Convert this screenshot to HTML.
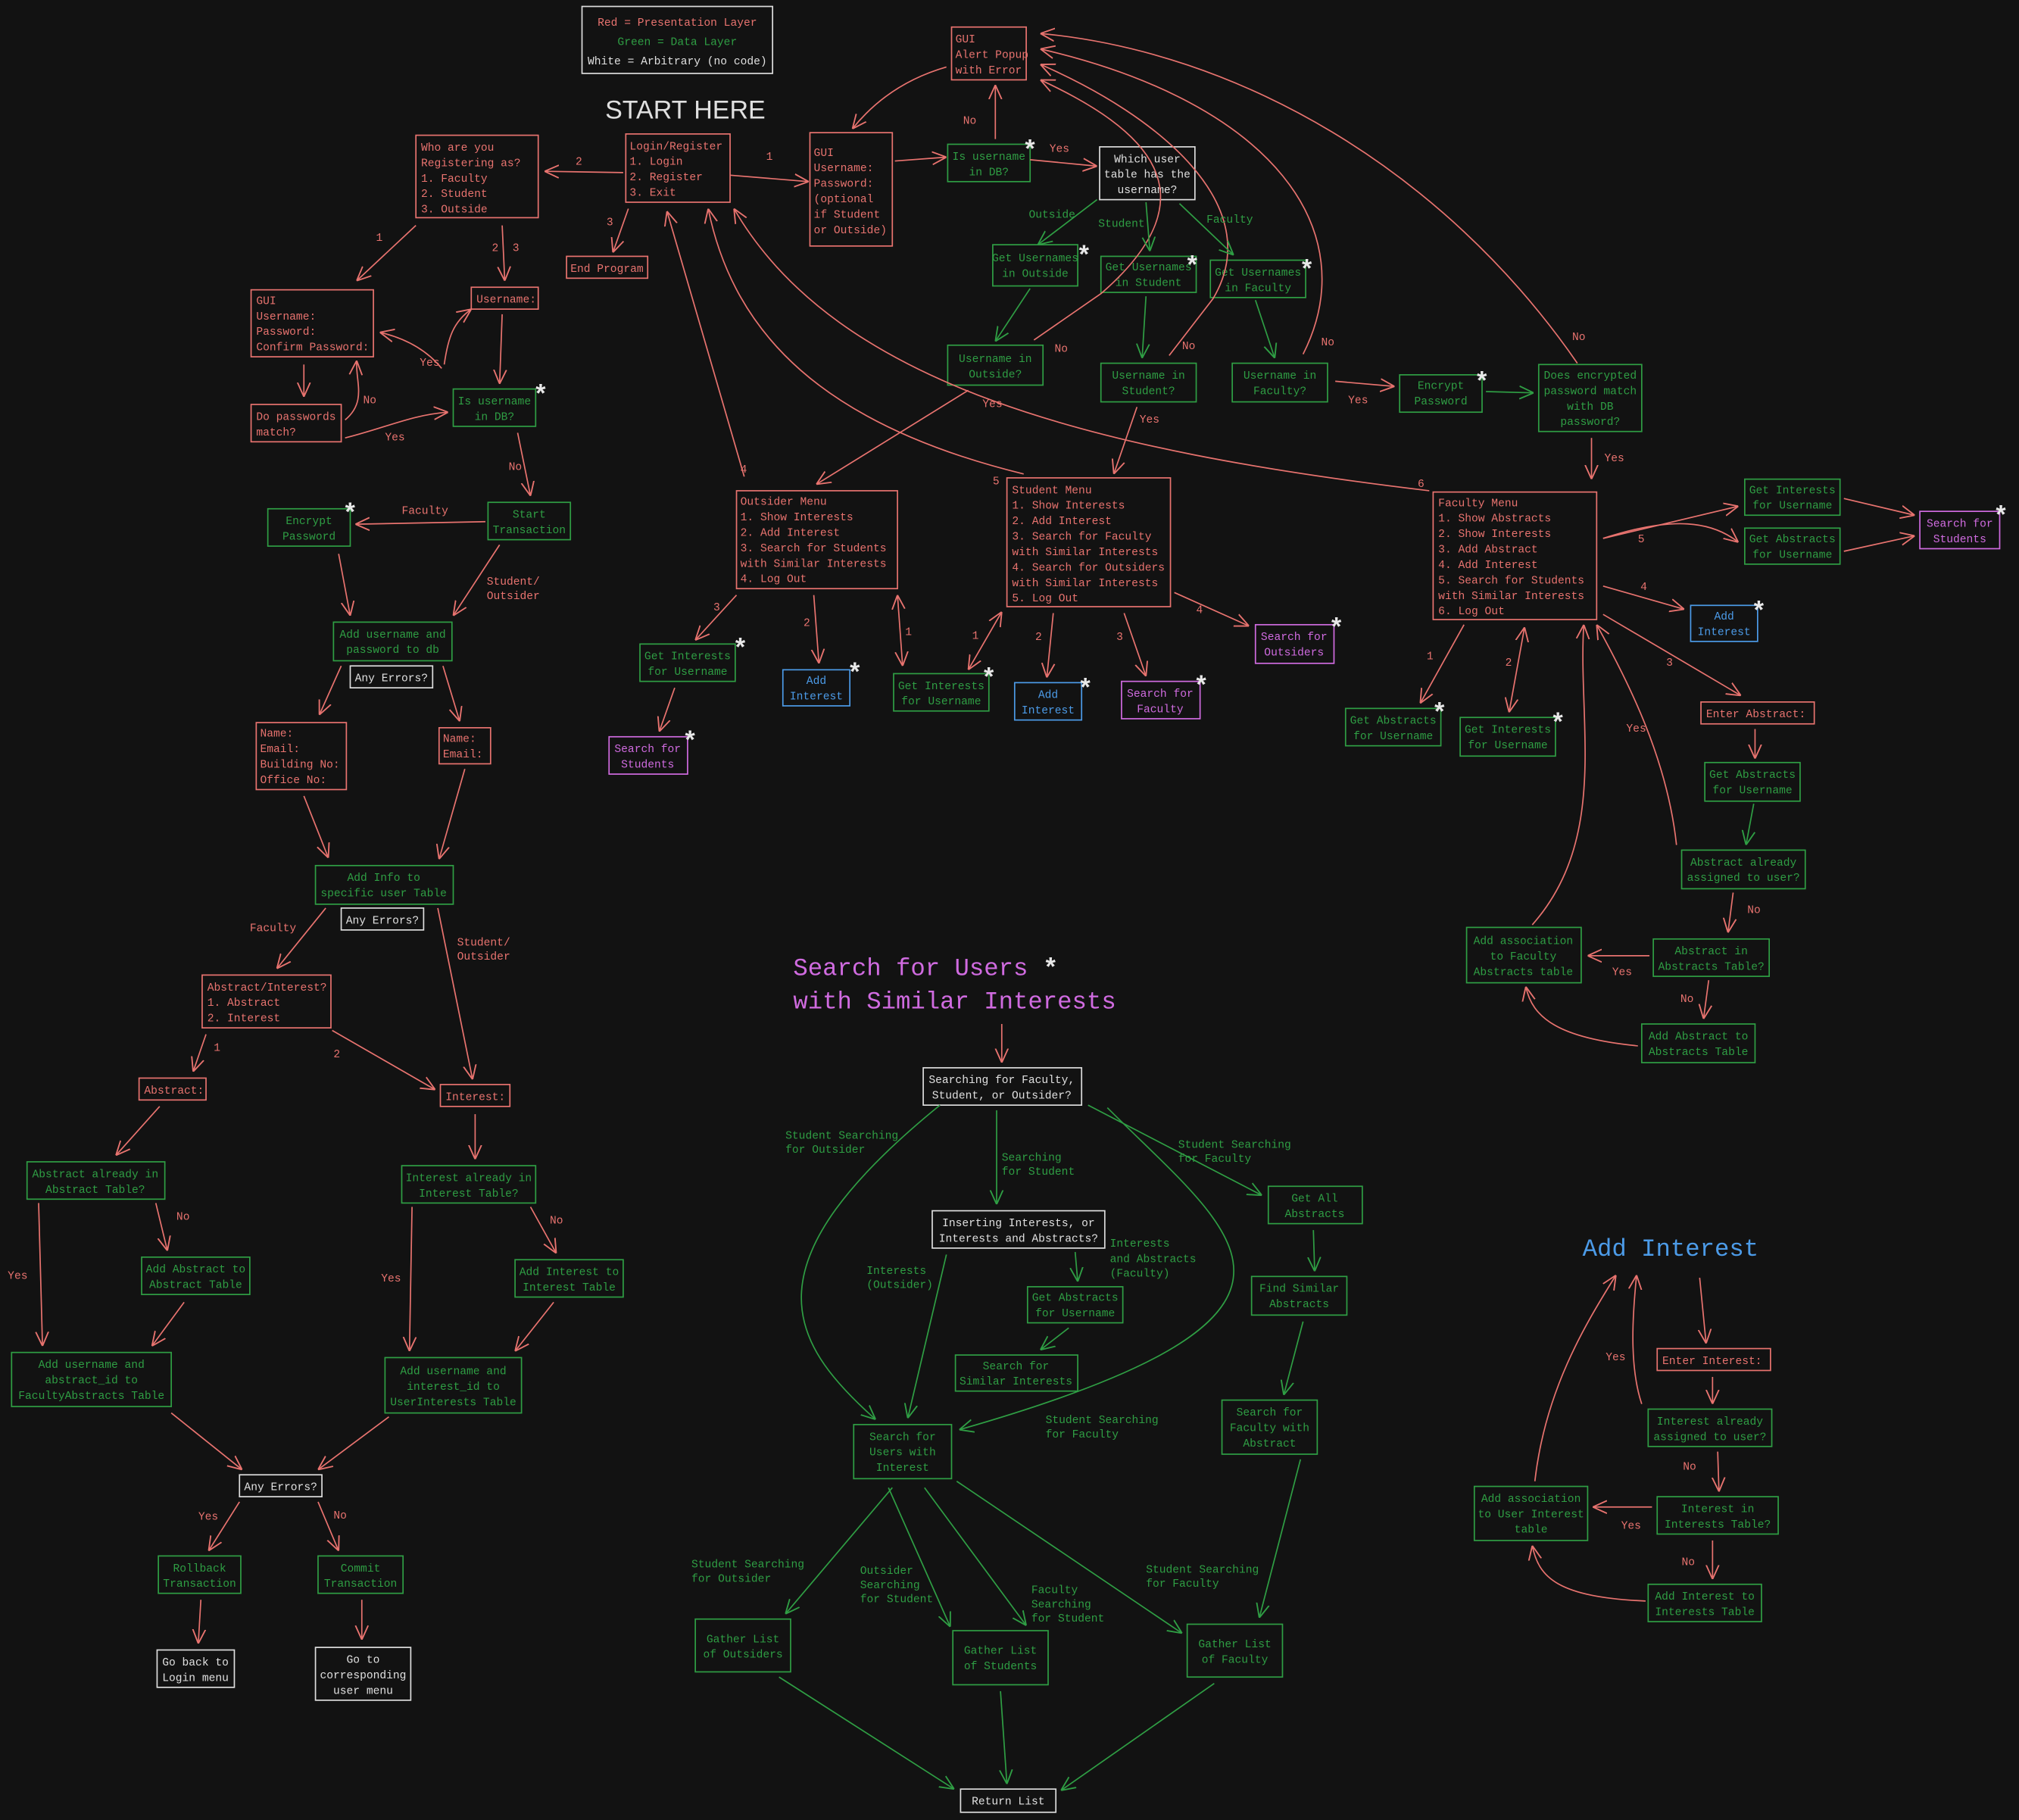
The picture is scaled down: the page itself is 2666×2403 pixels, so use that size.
<!DOCTYPE html>
<html><head><meta charset="utf-8"><style>
html,body{margin:0;padding:0;background:#121212}
svg{display:block}
text{font-family:"Liberation Mono",monospace;font-size:8.6px}
.r{fill:none;stroke:#e8736f;stroke-width:1}
.g{fill:none;stroke:#2f9e44;stroke-width:1}
.w{fill:none;stroke:#dddddd;stroke-width:1}
.p{fill:none;stroke:#d06be0;stroke-width:1}
.b{fill:none;stroke:#4c9be8;stroke-width:1}
.tr{fill:#e8736f}.tg{fill:#2f9e44}.tw{fill:#e0e0e0}.tp{fill:#d06be0}.tb{fill:#4c9be8}
.c{text-anchor:middle}
.lr{fill:none;stroke:#e8736f;stroke-width:1;marker-end:url(#ar)}
.lg{fill:none;stroke:#2f9e44;stroke-width:1;marker-end:url(#ag)}
.dr{fill:none;stroke:#e8736f;stroke-width:1;marker-end:url(#ar);marker-start:url(#ar)}
.ast{fill:#e8e8e8;font-size:20px;font-weight:bold;font-family:"Liberation Sans",sans-serif}
</style></head><body>
<svg width="2666" height="2403" viewBox="0 0 1568 1413" preserveAspectRatio="none" xmlns="http://www.w3.org/2000/svg">
<defs>
<marker id="ar" viewBox="0 0 10 10" refX="10" refY="5" markerWidth="11" markerHeight="11" orient="auto-start-reverse" markerUnits="userSpaceOnUse"><path d="M0,0.5 L10,5 L0,9.5" fill="none" stroke="#e8736f" stroke-width="1"/></marker>
<marker id="ag" viewBox="0 0 10 10" refX="10" refY="5" markerWidth="11" markerHeight="11" orient="auto-start-reverse" markerUnits="userSpaceOnUse"><path d="M0,0.5 L10,5 L0,9.5" fill="none" stroke="#2f9e44" stroke-width="1"/></marker>
</defs>
<rect width="1568" height="1413" fill="#121212"/>

<!-- legend -->
<rect class="w" x="452" y="5" width="148" height="52"/>
<text class="tr c" x="526" y="20">Red = Presentation Layer</text>
<text class="tg c" x="526" y="35">Green = Data Layer</text>
<text class="tw c" x="526" y="50">White = Arbitrary (no code)</text>
<text class="tw" x="470" y="92" style="font-size:20px;font-family:'Liberation Sans',sans-serif">START HERE</text>

<!-- top boxes -->
<rect class="r" x="486" y="104" width="81" height="53"/>
<text class="tr"><tspan x="489" y="116">Login/Register</tspan><tspan x="489" y="128">1. Login</tspan><tspan x="489" y="140">2. Register</tspan><tspan x="489" y="152">3. Exit</tspan></text>
<rect class="r" x="323" y="105" width="95" height="64"/>
<text class="tr"><tspan x="327" y="117">Who are you</tspan><tspan x="327" y="129">Registering as?</tspan><tspan x="327" y="141">1. Faculty</tspan><tspan x="327" y="153">2. Student</tspan><tspan x="327" y="165">3. Outside</tspan></text>
<rect class="r" x="629" y="103" width="64" height="88"/>
<text class="tr"><tspan x="632" y="121">GUI</tspan><tspan x="632" y="133">Username:</tspan><tspan x="632" y="145">Password:</tspan><tspan x="632" y="157">(optional</tspan><tspan x="632" y="169">if Student</tspan><tspan x="632" y="181">or Outside)</tspan></text>
<rect class="r" x="440" y="199" width="63" height="17"/>
<text class="tr" x="443" y="211">End Program</text>
<rect class="r" x="739" y="21" width="58" height="41"/>
<text class="tr"><tspan x="742" y="33">GUI</tspan><tspan x="742" y="45">Alert Popup</tspan><tspan x="742" y="57">with Error</tspan></text>
<rect class="g" x="736" y="112" width="64" height="29"/>
<text class="tg c"><tspan x="768" y="124">Is username</tspan><tspan x="768" y="136">in DB?</tspan></text>
<text class="ast" x="796" y="122">*</text>
<rect class="w" x="854" y="114" width="74" height="41"/>
<text class="tw c"><tspan x="891" y="126">Which user</tspan><tspan x="891" y="138">table has the</tspan><tspan x="891" y="150">username?</tspan></text>
<rect class="g" x="771" y="190" width="66" height="32"/>
<text class="tg c"><tspan x="804" y="203">Get Usernames</tspan><tspan x="804" y="215">in Outside</tspan></text>
<text class="ast" x="838" y="204">*</text>
<rect class="g" x="855" y="199" width="74" height="28"/>
<text class="tg c"><tspan x="892" y="210">Get Usernames</tspan><tspan x="892" y="222">in Student</tspan></text>
<text class="ast" x="922" y="212">*</text>
<rect class="g" x="940" y="202" width="74" height="29"/>
<text class="tg c"><tspan x="977" y="214">Get Usernames</tspan><tspan x="977" y="226">in Faculty</tspan></text>
<text class="ast" x="1011" y="215">*</text>
<rect class="g" x="736" y="268" width="74" height="31"/>
<text class="tg c"><tspan x="773" y="281">Username in</tspan><tspan x="773" y="293">Outside?</tspan></text>
<rect class="g" x="855" y="282" width="74" height="30"/>
<text class="tg c"><tspan x="892" y="294">Username in</tspan><tspan x="892" y="306">Student?</tspan></text>
<rect class="g" x="957" y="282" width="74" height="30"/>
<text class="tg c"><tspan x="994" y="294">Username in</tspan><tspan x="994" y="306">Faculty?</tspan></text>
<rect class="g" x="1087" y="291" width="64" height="29"/>
<text class="tg c"><tspan x="1119" y="302">Encrypt</tspan><tspan x="1119" y="314">Password</tspan></text>
<text class="ast" x="1147" y="302">*</text>
<rect class="g" x="1195" y="283" width="80" height="52"/>
<text class="tg c"><tspan x="1235" y="294">Does encrypted</tspan><tspan x="1235" y="306">password match</tspan><tspan x="1235" y="318">with DB</tspan><tspan x="1235" y="330">password?</tspan></text>

<!-- faculty menu -->
<rect class="r" x="1113" y="382" width="127" height="99"/>
<text class="tr"><tspan x="1117" y="393">Faculty Menu</tspan><tspan x="1117" y="405">1. Show Abstracts</tspan><tspan x="1117" y="417">2. Show Interests</tspan><tspan x="1117" y="429">3. Add Abstract</tspan><tspan x="1117" y="441">4. Add Interest</tspan><tspan x="1117" y="453">5. Search for Students</tspan><tspan x="1117" y="465">with Similar Interests</tspan><tspan x="1117" y="477">6. Log Out</tspan></text>
<rect class="g" x="1355" y="372" width="74" height="28"/>
<text class="tg c"><tspan x="1392" y="383">Get Interests</tspan><tspan x="1392" y="395">for Username</tspan></text>
<rect class="g" x="1355" y="410" width="74" height="28"/>
<text class="tg c"><tspan x="1392" y="421">Get Abstracts</tspan><tspan x="1392" y="433">for Username</tspan></text>
<rect class="p" x="1491" y="397" width="62" height="29"/>
<text class="tp c"><tspan x="1522" y="409">Search for</tspan><tspan x="1522" y="421">Students</tspan></text>
<text class="ast" x="1550" y="406">*</text>
<rect class="b" x="1313" y="470" width="52" height="28"/>
<text class="tb c"><tspan x="1339" y="481">Add</tspan><tspan x="1339" y="493">Interest</tspan></text>
<text class="ast" x="1362" y="480">*</text>
<rect class="r" x="1321" y="545" width="88" height="17"/>
<text class="tr" x="1325" y="557">Enter Abstract:</text>
<rect class="g" x="1324" y="592" width="74" height="30"/>
<text class="tg c"><tspan x="1361" y="604">Get Abstracts</tspan><tspan x="1361" y="616">for Username</tspan></text>
<rect class="g" x="1306" y="660" width="96" height="30"/>
<text class="tg c"><tspan x="1354" y="672">Abstract already</tspan><tspan x="1354" y="684">assigned to user?</tspan></text>
<rect class="g" x="1284" y="729" width="90" height="29"/>
<text class="tg c"><tspan x="1329" y="741">Abstract in</tspan><tspan x="1329" y="753">Abstracts Table?</tspan></text>
<rect class="g" x="1139" y="720" width="89" height="43"/>
<text class="tg c"><tspan x="1183" y="733">Add association</tspan><tspan x="1183" y="745">to Faculty</tspan><tspan x="1183" y="757">Abstracts table</tspan></text>
<rect class="g" x="1275" y="795" width="88" height="30"/>
<text class="tg c"><tspan x="1319" y="807">Add Abstract to</tspan><tspan x="1319" y="819">Abstracts Table</tspan></text>
<rect class="g" x="1045" y="550" width="74" height="29"/>
<text class="tg c"><tspan x="1082" y="562">Get Abstracts</tspan><tspan x="1082" y="574">for Username</tspan></text>
<text class="ast" x="1114" y="559">*</text>
<rect class="g" x="1134" y="557" width="74" height="30"/>
<text class="tg c"><tspan x="1171" y="569">Get Interests</tspan><tspan x="1171" y="581">for Username</tspan></text>
<text class="ast" x="1206" y="567">*</text>

<!-- student menu -->
<rect class="r" x="782" y="371" width="127" height="100"/>
<text class="tr"><tspan x="786" y="383">Student Menu</tspan><tspan x="786" y="395">1. Show Interests</tspan><tspan x="786" y="407">2. Add Interest</tspan><tspan x="786" y="419">3. Search for Faculty</tspan><tspan x="786" y="431">with Similar Interests</tspan><tspan x="786" y="443">4. Search for Outsiders</tspan><tspan x="786" y="455">with Similar Interests</tspan><tspan x="786" y="467">5. Log Out</tspan></text>
<rect class="p" x="975" y="485" width="61" height="30"/>
<text class="tp c"><tspan x="1005" y="497">Search for</tspan><tspan x="1005" y="509">Outsiders</tspan></text>
<text class="ast" x="1034" y="493">*</text>
<rect class="g" x="694" y="523" width="74" height="29"/>
<text class="tg c"><tspan x="731" y="535">Get Interests</tspan><tspan x="731" y="547">for Username</tspan></text>
<text class="ast" x="764" y="532">*</text>
<rect class="b" x="788" y="530" width="52" height="29"/>
<text class="tb c"><tspan x="814" y="542">Add</tspan><tspan x="814" y="554">Interest</tspan></text>
<text class="ast" x="839" y="540">*</text>
<rect class="p" x="871" y="529" width="61" height="29"/>
<text class="tp c"><tspan x="901" y="541">Search for</tspan><tspan x="901" y="553">Faculty</tspan></text>
<text class="ast" x="929" y="538">*</text>

<!-- outsider menu -->
<rect class="r" x="572" y="381" width="125" height="76"/>
<text class="tr"><tspan x="575" y="392">Outsider Menu</tspan><tspan x="575" y="404">1. Show Interests</tspan><tspan x="575" y="416">2. Add Interest</tspan><tspan x="575" y="428">3. Search for Students</tspan><tspan x="575" y="440">with Similar Interests</tspan><tspan x="575" y="452">4. Log Out</tspan></text>
<rect class="g" x="497" y="500" width="74" height="29"/>
<text class="tg c"><tspan x="534" y="512">Get Interests</tspan><tspan x="534" y="524">for Username</tspan></text>
<text class="ast" x="571" y="509">*</text>
<rect class="b" x="608" y="520" width="52" height="28"/>
<text class="tb c"><tspan x="634" y="531">Add</tspan><tspan x="634" y="543">Interest</tspan></text>
<text class="ast" x="660" y="528">*</text>
<rect class="p" x="473" y="572" width="61" height="29"/>
<text class="tp c"><tspan x="503" y="584">Search for</tspan><tspan x="503" y="596">Students</tspan></text>
<text class="ast" x="532" y="581">*</text>

<!-- left branch -->
<rect class="r" x="195" y="225" width="95" height="52"/>
<text class="tr"><tspan x="199" y="236">GUI</tspan><tspan x="199" y="248">Username:</tspan><tspan x="199" y="260">Password:</tspan><tspan x="199" y="272">Confirm Password:</tspan></text>
<rect class="r" x="366" y="223" width="52" height="17"/>
<text class="tr" x="370" y="235">Username:</text>
<rect class="r" x="195" y="314" width="70" height="29"/>
<text class="tr"><tspan x="199" y="326">Do passwords</tspan><tspan x="199" y="338">match?</tspan></text>
<rect class="g" x="352" y="302" width="64" height="29"/>
<text class="tg c"><tspan x="384" y="314">Is username</tspan><tspan x="384" y="326">in DB?</tspan></text>
<text class="ast" x="416" y="312">*</text>
<rect class="g" x="379" y="390" width="64" height="29"/>
<text class="tg c"><tspan x="411" y="402">Start</tspan><tspan x="411" y="414">Transaction</tspan></text>
<rect class="g" x="208" y="395" width="64" height="29"/>
<text class="tg c"><tspan x="240" y="407">Encrypt</tspan><tspan x="240" y="419">Password</tspan></text>
<text class="ast" x="268" y="404">*</text>
<rect class="g" x="259" y="483" width="92" height="30"/>
<text class="tg c"><tspan x="305" y="495">Add username and</tspan><tspan x="305" y="507">password to db</tspan></text>
<rect class="w" x="272" y="517" width="64" height="17"/>
<text class="tw c" x="304" y="529">Any Errors?</text>
<rect class="r" x="199" y="561" width="70" height="52"/>
<text class="tr"><tspan x="202" y="572">Name:</tspan><tspan x="202" y="584">Email:</tspan><tspan x="202" y="596">Building No:</tspan><tspan x="202" y="608">Office No:</tspan></text>
<rect class="r" x="341" y="565" width="40" height="28"/>
<text class="tr"><tspan x="344" y="576">Name:</tspan><tspan x="344" y="588">Email:</tspan></text>
<rect class="g" x="245" y="672" width="107" height="30"/>
<text class="tg c"><tspan x="298" y="684">Add Info to</tspan><tspan x="298" y="696">specific user Table</tspan></text>
<rect class="w" x="265" y="705" width="64" height="17"/>
<text class="tw c" x="297" y="717">Any Errors?</text>
<rect class="r" x="157" y="757" width="100" height="41"/>
<text class="tr"><tspan x="161" y="769">Abstract/Interest?</tspan><tspan x="161" y="781">1. Abstract</tspan><tspan x="161" y="793">2. Interest</tspan></text>
<rect class="r" x="108" y="837" width="52" height="17"/>
<text class="tr" x="112" y="849">Abstract:</text>
<rect class="r" x="342" y="842" width="54" height="17"/>
<text class="tr" x="346" y="854">Interest:</text>
<rect class="g" x="21" y="902" width="107" height="29"/>
<text class="tg c"><tspan x="74" y="914">Abstract already in</tspan><tspan x="74" y="926">Abstract Table?</tspan></text>
<rect class="g" x="312" y="905" width="104" height="29"/>
<text class="tg c"><tspan x="364" y="917">Interest already in</tspan><tspan x="364" y="929">Interest Table?</tspan></text>
<rect class="g" x="110" y="976" width="84" height="29"/>
<text class="tg c"><tspan x="152" y="988">Add Abstract to</tspan><tspan x="152" y="1000">Abstract Table</tspan></text>
<rect class="g" x="400" y="978" width="84" height="29"/>
<text class="tg c"><tspan x="442" y="990">Add Interest to</tspan><tspan x="442" y="1002">Interest Table</tspan></text>
<rect class="g" x="9" y="1050" width="124" height="42"/>
<text class="tg c"><tspan x="71" y="1062">Add username and</tspan><tspan x="71" y="1074">abstract_id to</tspan><tspan x="71" y="1086">FacultyAbstracts Table</tspan></text>
<rect class="g" x="299" y="1054" width="106" height="43"/>
<text class="tg c"><tspan x="352" y="1067">Add username and</tspan><tspan x="352" y="1079">interest_id to</tspan><tspan x="352" y="1091">UserInterests Table</tspan></text>
<rect class="w" x="186" y="1145" width="64" height="17"/>
<text class="tw c" x="218" y="1157">Any Errors?</text>
<rect class="g" x="123" y="1208" width="64" height="29"/>
<text class="tg c"><tspan x="155" y="1220">Rollback</tspan><tspan x="155" y="1232">Transaction</tspan></text>
<rect class="g" x="247" y="1208" width="66" height="29"/>
<text class="tg c"><tspan x="280" y="1220">Commit</tspan><tspan x="280" y="1232">Transaction</tspan></text>
<rect class="w" x="122" y="1281" width="60" height="29"/>
<text class="tw"><tspan x="126" y="1293">Go back to</tspan><tspan x="126" y="1305">Login menu</tspan></text>
<rect class="w" x="245" y="1279" width="74" height="41"/>
<text class="tw c"><tspan x="282" y="1291">Go to</tspan><tspan x="282" y="1303">corresponding</tspan><tspan x="282" y="1315">user menu</tspan></text>

<!-- bottom middle -->
<text class="tp" x="616" y="757" style="font-size:19px">Search for Users</text>
<text class="tp" x="616" y="783" style="font-size:19px">with Similar Interests</text>
<text class="ast" x="812" y="757">*</text>
<rect class="w" x="717" y="829" width="123" height="29"/>
<text class="tw c"><tspan x="778" y="841">Searching for Faculty,</tspan><tspan x="778" y="853">Student, or Outsider?</tspan></text>
<rect class="w" x="724" y="940" width="134" height="29"/>
<text class="tw c"><tspan x="791" y="952">Inserting Interests, or</tspan><tspan x="791" y="964">Interests and Abstracts?</tspan></text>
<rect class="g" x="985" y="921" width="73" height="29"/>
<text class="tg c"><tspan x="1021" y="933">Get All</tspan><tspan x="1021" y="945">Abstracts</tspan></text>
<rect class="g" x="972" y="991" width="74" height="30"/>
<text class="tg c"><tspan x="1009" y="1003">Find Similar</tspan><tspan x="1009" y="1015">Abstracts</tspan></text>
<rect class="g" x="798" y="999" width="74" height="28"/>
<text class="tg c"><tspan x="835" y="1010">Get Abstracts</tspan><tspan x="835" y="1022">for Username</tspan></text>
<rect class="g" x="742" y="1052" width="95" height="28"/>
<text class="tg c"><tspan x="789" y="1063">Search for</tspan><tspan x="789" y="1075">Similar Interests</tspan></text>
<rect class="g" x="663" y="1106" width="76" height="42"/>
<text class="tg c"><tspan x="701" y="1118">Search for</tspan><tspan x="701" y="1130">Users with</tspan><tspan x="701" y="1142">Interest</tspan></text>
<rect class="g" x="949" y="1087" width="74" height="42"/>
<text class="tg c"><tspan x="986" y="1099">Search for</tspan><tspan x="986" y="1111">Faculty with</tspan><tspan x="986" y="1123">Abstract</tspan></text>
<rect class="g" x="540" y="1257" width="74" height="41"/>
<text class="tg c"><tspan x="577" y="1275">Gather List</tspan><tspan x="577" y="1287">of Outsiders</tspan></text>
<rect class="g" x="740" y="1266" width="74" height="42"/>
<text class="tg c"><tspan x="777" y="1284">Gather List</tspan><tspan x="777" y="1296">of Students</tspan></text>
<rect class="g" x="922" y="1261" width="74" height="41"/>
<text class="tg c"><tspan x="959" y="1279">Gather List</tspan><tspan x="959" y="1291">of Faculty</tspan></text>
<rect class="w" x="746" y="1389" width="74" height="18"/>
<text class="tw c" x="783" y="1401">Return List</text>

<!-- add interest -->
<text class="tb" x="1229" y="975" style="font-size:19px">Add Interest</text>
<rect class="r" x="1287" y="1047" width="88" height="17"/>
<text class="tr" x="1291" y="1059">Enter Interest:</text>
<rect class="g" x="1280" y="1094" width="96" height="29"/>
<text class="tg c"><tspan x="1328" y="1106">Interest already</tspan><tspan x="1328" y="1118">assigned to user?</tspan></text>
<rect class="g" x="1287" y="1162" width="94" height="29"/>
<text class="tg c"><tspan x="1334" y="1174">Interest in</tspan><tspan x="1334" y="1186">Interests Table?</tspan></text>
<rect class="g" x="1145" y="1154" width="88" height="42"/>
<text class="tg c"><tspan x="1189" y="1166">Add association</tspan><tspan x="1189" y="1178">to User Interest</tspan><tspan x="1189" y="1190">table</tspan></text>
<rect class="g" x="1280" y="1230" width="88" height="29"/>
<text class="tg c"><tspan x="1324" y="1242">Add Interest to</tspan><tspan x="1324" y="1254">Interests Table</tspan></text>

<!-- red connectors top -->
<path class="lr" d="M484,134 L423,133"/><text class="tr" x="447" y="128">2</text>
<path class="lr" d="M567,136 L628,141"/><text class="tr" x="595" y="124">1</text>
<path class="lr" d="M488,162 L476,196"/><text class="tr" x="471" y="175">3</text>
<path class="lr" d="M695,125 L735,122"/>
<path class="lr" d="M773,108 L773,66"/><text class="tr" x="748" y="96">No</text>
<path class="lr" d="M735,52 Q690,65 662,100"/>
<path class="lr" d="M800,124 L852,129"/><text class="tr" x="815" y="118">Yes</text>
<path class="lr" d="M1225,282 C1120,130 960,40 808,26"/><text class="tr" x="1221" y="264">No</text>
<path class="lr" d="M1012,275 C1060,180 990,80 808,38"/><text class="tr" x="1026" y="268">No</text>
<path class="lr" d="M908,276 L942,232 C985,160 900,90 808,50"/><text class="tr" x="918" y="271">No</text>
<path class="lr" d="M803,264 L855,228 C945,150 890,100 808,62"/><text class="tr" x="819" y="273">No</text>
<path class="lr" d="M752,303 L634,376"/><text class="tr" x="763" y="316">Yes</text>
<path class="lr" d="M883,316 L865,368"/><text class="tr" x="885" y="328">Yes</text>
<path class="lr" d="M1037,296 L1083,300"/><text class="tr" x="1047" y="313">Yes</text>
<path class="lr" d="M1236,340 L1236,372"/><text class="tr" x="1246" y="358">Yes</text>
<path class="lr" d="M578,370 L518,164"/><text class="tr" x="575" y="367">4</text>
<path class="lr" d="M795,368 C640,330 570,260 550,162"/><text class="tr" x="771" y="376">5</text>
<path class="lr" d="M1110,381 C850,350 650,300 570,162"/><text class="tr" x="1101" y="378">6</text>
<!-- outsider arrows -->
<path class="lr" d="M572,462 L540,497"/><text class="tr" x="554" y="474">3</text>
<path class="lr" d="M524,534 L512,568"/>
<path class="lr" d="M632,462 L636,515"/><text class="tr" x="624" y="486">2</text>
<path class="dr" d="M697,462 L701,517"/><text class="tr" x="703" y="493">1</text>
<!-- student arrows -->
<path class="dr" d="M778,475 L752,520"/><text class="tr" x="755" y="496">1</text>
<path class="lr" d="M818,476 L813,526"/><text class="tr" x="804" y="497">2</text>
<path class="lr" d="M873,476 L890,525"/><text class="tr" x="867" y="497">3</text>
<path class="lr" d="M912,460 L970,486"/><text class="tr" x="929" y="476">4</text>
<!-- faculty arrows -->
<path class="lr" d="M1245,418 L1350,393"/>
<path class="lr" d="M1245,418 C1300,400 1330,405 1350,421"/><text class="tr" x="1272" y="421">5</text>
<path class="lr" d="M1432,387 L1487,400"/>
<path class="lr" d="M1432,428 L1487,416"/>
<path class="lr" d="M1245,455 L1308,473"/><text class="tr" x="1274" y="458">4</text>
<path class="lr" d="M1245,477 L1352,540"/><text class="tr" x="1294" y="517">3</text>
<path class="lr" d="M1137,485 L1103,546"/><text class="tr" x="1108" y="512">1</text>
<path class="dr" d="M1184,487 L1172,553"/><text class="tr" x="1169" y="517">2</text>
<path class="lr" d="M1363,566 L1363,589"/>
<path class="lr" d="M1346,693 L1342,724"/><text class="tr" x="1357" y="709">No</text>
<path class="lr" d="M1281,742 L1233,742"/><text class="tr" x="1252" y="757">Yes</text>
<path class="lr" d="M1327,761 L1323,791"/><text class="tr" x="1305" y="778">No</text>
<path class="lr" d="M1272,812 C1210,806 1190,790 1185,766"/>
<path class="lr" d="M1190,718 C1250,650 1225,560 1230,485"/>
<path class="lr" d="M1302,656 C1295,590 1265,530 1240,485"/><text class="tr" x="1263" y="568">Yes</text>

<!-- left red -->
<path class="lr" d="M323,175 L277,218"/><text class="tr" x="292" y="187">1</text>
<path class="lr" d="M390,175 L392,218"/><text class="tr" x="382" y="195">2</text><text class="tr" x="398" y="195">3</text>
<path class="lr" d="M236,283 L236,308"/>
<path class="lr" d="M268,340 C300,332 320,322 348,320"/><text class="tr" x="299" y="342">Yes</text>
<path class="lr" d="M268,326 C285,312 276,296 277,280"/><text class="tr" x="282" y="313">No</text>
<path class="lr" d="M390,244 L388,298"/>
<path class="lr" d="M343,286 C330,270 312,262 295,258"/>
<path class="lr" d="M345,283 C348,262 352,250 366,240"/><text class="tr" x="326" y="284">Yes</text>
<path class="lr" d="M402,336 L412,385"/><text class="tr" x="395" y="365">No</text>
<path class="lr" d="M377,405 L276,407"/><text class="tr" x="312" y="399">Faculty</text>
<path class="lr" d="M388,423 L352,478"/><text class="tr"><tspan x="378" y="454">Student/</tspan><tspan x="378" y="465">Outsider</tspan></text>
<path class="lr" d="M263,430 L272,478"/>
<path class="lr" d="M265,517 L248,555"/>
<path class="lr" d="M344,517 L357,560"/>
<path class="lr" d="M236,618 L255,666"/>
<path class="lr" d="M361,597 L341,667"/>
<path class="lr" d="M253,705 L215,752"/><text class="tr" x="194" y="723">Faculty</text>
<path class="lr" d="M340,705 L367,838"/><text class="tr"><tspan x="355" y="734">Student/</tspan><tspan x="355" y="745">Outsider</tspan></text>
<path class="lr" d="M160,803 L150,832"/><text class="tr" x="166" y="816">1</text>
<path class="lr" d="M258,800 L338,846"/><text class="tr" x="259" y="821">2</text>
<path class="lr" d="M124,859 L90,897"/>
<path class="lr" d="M369,865 L369,900"/>
<path class="lr" d="M121,934 L130,971"/><text class="tr" x="137" y="947">No</text>
<path class="lr" d="M30,934 L33,1045"/><text class="tr" x="6" y="993">Yes</text>
<path class="lr" d="M143,1011 L118,1045"/>
<path class="lr" d="M412,937 L432,973"/><text class="tr" x="427" y="950">No</text>
<path class="lr" d="M320,937 L318,1049"/><text class="tr" x="296" y="995">Yes</text>
<path class="lr" d="M430,1011 L400,1049"/>
<path class="lr" d="M133,1097 L188,1141"/>
<path class="lr" d="M302,1100 L247,1141"/>
<path class="lr" d="M186,1166 L162,1204"/><text class="tr" x="154" y="1180">Yes</text>
<path class="lr" d="M247,1166 L263,1204"/><text class="tr" x="259" y="1179">No</text>
<path class="lr" d="M156,1242 L154,1276"/>
<path class="lr" d="M281,1242 L281,1273"/>

<!-- green connectors top -->
<path class="lg" d="M852,155 L806,190"/><text class="tg" x="799" y="169">Outside</text>
<path class="lg" d="M890,157 L893,195"/><text class="tg" x="853" y="176">Student</text>
<path class="lg" d="M916,158 L958,198"/><text class="tg" x="937" y="173">Faculty</text>
<path class="lg" d="M800,224 L773,265"/>
<path class="lg" d="M890,230 L887,278"/>
<path class="lg" d="M975,233 L990,278"/>
<path class="lg" d="M1154,304 L1191,305"/>
<path class="lg" d="M1362,624 L1356,656"/>

<!-- bottom middle connectors -->
<path class="lr" d="M778,795 L778,825"/>
<path class="lg" d="M730,858 C580,980 610,1040 680,1102"/><text class="tg"><tspan x="610" y="884">Student Searching</tspan><tspan x="610" y="895">for Outsider</tspan></text>
<path class="lg" d="M774,862 L774,935"/><text class="tg"><tspan x="778" y="901">Searching</tspan><tspan x="778" y="912">for Student</tspan></text>
<path class="lg" d="M845,858 L980,928"/><text class="tg"><tspan x="915" y="891">Student Searching</tspan><tspan x="915" y="902">for Faculty</tspan></text>
<path class="lg" d="M860,860 C960,960 1060,1020 745,1110"/><text class="tg"><tspan x="812" y="1105">Student Searching</tspan><tspan x="812" y="1116">for Faculty</tspan></text>
<path class="lg" d="M735,974 L705,1101"/><text class="tg"><tspan x="673" y="989">Interests</tspan><tspan x="673" y="1000">(Outsider)</tspan></text>
<path class="lg" d="M835,972 L837,995"/><text class="tg"><tspan x="862" y="968">Interests</tspan><tspan x="862" y="980">and Abstracts</tspan><tspan x="862" y="991">(Faculty)</tspan></text>
<path class="lg" d="M830,1031 L808,1048"/>
<path class="lg" d="M1020,955 L1021,987"/>
<path class="lg" d="M1012,1026 L997,1083"/>
<path class="lg" d="M693,1155 L610,1253"/><text class="tg"><tspan x="537" y="1217">Student Searching</tspan><tspan x="537" y="1228">for Outsider</tspan></text>
<path class="lg" d="M690,1155 L738,1263"/><text class="tg"><tspan x="668" y="1222">Outsider</tspan><tspan x="668" y="1233">Searching</tspan><tspan x="668" y="1244">for Student</tspan></text>
<path class="lg" d="M718,1155 L797,1262"/><text class="tg"><tspan x="801" y="1237">Faculty</tspan><tspan x="801" y="1248">Searching</tspan><tspan x="801" y="1259">for Student</tspan></text>
<path class="lg" d="M743,1150 L918,1268"/><text class="tg"><tspan x="890" y="1221">Student Searching</tspan><tspan x="890" y="1232">for Faculty</tspan></text>
<path class="lg" d="M1010,1133 L978,1256"/>
<path class="lg" d="M605,1302 L741,1389"/>
<path class="lg" d="M777,1313 L782,1385"/>
<path class="lg" d="M943,1307 L824,1390"/>

<!-- add interest connectors -->
<path class="lr" d="M1320,992 L1325,1043"/>
<path class="lr" d="M1330,1069 L1330,1090"/>
<path class="lr" d="M1275,1090 C1265,1060 1268,1020 1271,990"/><text class="tr" x="1247" y="1056">Yes</text>
<path class="lr" d="M1334,1127 L1335,1158"/><text class="tr" x="1307" y="1141">No</text>
<path class="lr" d="M1283,1170 L1237,1170"/><text class="tr" x="1259" y="1187">Yes</text>
<path class="lr" d="M1330,1196 L1330,1226"/><text class="tr" x="1306" y="1215">No</text>
<path class="lr" d="M1278,1243 C1210,1240 1195,1225 1190,1200"/>
<path class="lr" d="M1192,1150 C1200,1080 1230,1030 1255,990"/>
</svg>
</body></html>
